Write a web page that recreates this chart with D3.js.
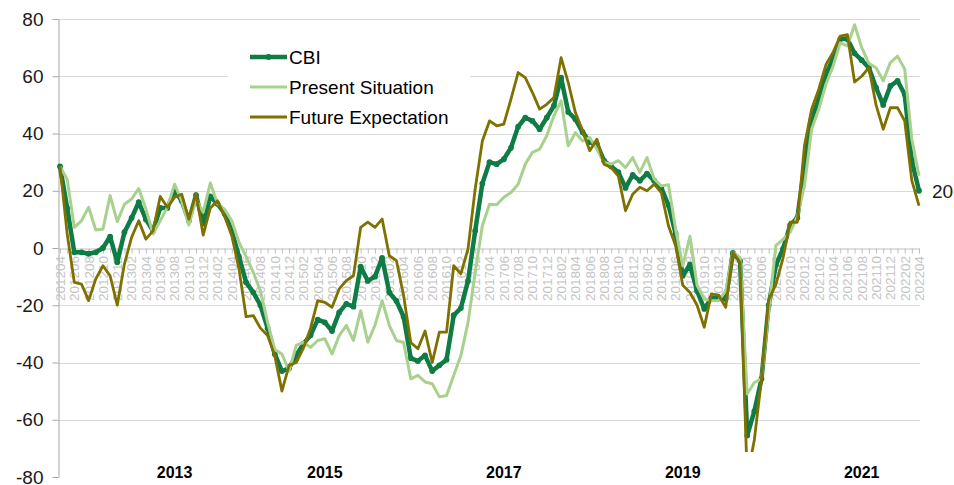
<!DOCTYPE html>
<html>
<head>
<meta charset="utf-8">
<script src="https://cdn.jsdelivr.net/npm/d3@7"></script>
<style>
  body { margin: 0; background: #fff; }
  svg { display: block; font-family: Arial, "Liberation Sans", sans-serif; }
</style>
</head>
<body>
<svg id="chart" width="954" height="485"></svg>
<script>
// ---- data -----------------------------------------------------------------
const months = [
  "201204","201205","201206","201207","201208","201209","201210","201211","201212",
  "201301","201302","201303","201304","201305","201306","201307","201308","201309","201310","201311","201312",
  "201401","201402","201403","201404","201405","201406","201407","201408","201409","201410","201411","201412",
  "201501","201502","201503","201504","201505","201506","201507","201508","201509","201510","201511","201512",
  "201601","201602","201603","201604","201605","201606","201607","201608","201609","201610","201611","201612",
  "201701","201702","201703","201704","201705","201706","201707","201708","201709","201710","201711","201712",
  "201801","201802","201803","201804","201805","201806","201807","201808","201809","201810","201811","201812",
  "201901","201902","201903","201904","201905","201906","201907","201908","201909","201910","201911","201912",
  "202001","202002","202003","202004","202005","202006","202007","202008","202009","202010","202011","202012",
  "202101","202102","202103","202104","202105","202106","202107","202108","202109","202110","202111","202112",
  "202201","202202","202203","202204"
];

const cbi = [
  28.5, 14, -1.5, -1.5, -2, -1.5, 0, 4, -5,
  5.5, 10.5, 16, 10, 6, 14, 14, 20, 16.5, 9.5, 18.5, 8.5,
  18, 15.5, 12, 6, -3, -12, -15.5, -20, -28, -37, -43, -42,
  -37.5, -33.5, -30.5, -25, -26, -29, -22.5, -19.5, -20.5, -6.5, -11.5, -10,
  -3.5, -15.5, -18.5, -24, -38.5, -39.5, -37.5, -43, -41, -39, -23.5, -21,
  -11.5, 6, 22.5, 30, 29.3, 31, 35, 42.4, 45.5, 44.4, 41.5, 45.5,
  49.7, 59.5, 47.5, 45, 40.5, 37, 36.3, 30.5, 28.5, 26.5, 21, 25.5,
  23.5, 26, 23.5, 21, 15, 5, -9.7, -5.8, -15, -21.3, -17.5, -17.3,
  -17.8, -1.7, -4.5, -65.5, -57, -45.7, -20, -6, -0.3, 8, 10.5, 28.7,
  45, 52, 60.7, 66, 73, 73, 68, 65.6, 63, 56, 50, 56.6,
  58.4, 53.7, 30.5, 20
];

const present = [
  28.5, 24, 7.2, 9.5, 14.2, 6.3, 6.6, 18.3, 9.2,
  15.3, 17.1, 20.8, 13.6, 4.9, 9.5, 14.2, 22.3, 16.5, 8, 17, 12.5,
  22.7, 15.5, 13.5, 9.5, 2, -3, -8.5, -15, -26, -35.5, -37, -43,
  -34, -33, -34.7, -32.3, -31.7, -37, -30.6, -27, -32.3, -21.9, -32.9, -27,
  -18.4, -27, -32.3, -33, -45.7, -44.5, -46.8, -47.4, -52, -51.5, -44.5, -37.6,
  -26, -8.5, 7.8, 15.3, 15.1, 17.7, 19.4, 22.3, 29.3, 33.4, 34.5, 39.2,
  46.2, 51.4, 35.7, 40.3, 37.4, 38.6, 34.5, 29.9, 29.3, 30.5, 28.1, 31.6,
  26.4, 31.6, 24.1, 21.7, 22.1, 6.6, -6.2, 4.1, -13, -17.8, -18.4, -18.4,
  -15, -1.5, -3.3, -51, -47, -45.7, -22, 0.8, 3, 5.5, 11, 21.7,
  41.5, 48.5, 57.2, 63.6, 71.7, 70.6, 78, 70, 64.5, 63, 58.4, 64.8,
  67, 62.5, 38, 25.2
];

const future = [
  28.5, 5, -12, -12.6, -18.4, -10.8, -6.2, -9.7, -20,
  -5.6, 3.7, 9.5, 3.1, 6, 18, 14.2, 17.7, 18.8, 10, 19, 4.5,
  14, 16.5, 11, 4.3, -7.3, -24, -23.6, -28, -30.6, -37.6, -50, -41,
  -40, -35, -28, -18.4, -19, -20.7, -14.3, -11.4, -9.7, 7.2, 9, 7.2,
  10.1, -2.7, -4.4, -16.6, -33, -35.2, -29, -40, -29.4, -29.4, -6.2, -9,
  -0.3, 20.6, 37.4, 44.4, 42.7, 43.3, 52, 61.3, 59.5, 54.3, 48.5, 50.2,
  52.6, 66.5, 57.8, 47.3, 41, 34, 38, 29.3, 28.1, 25.1, 13, 18.8,
  21.2, 20, 22.3, 19.4, 7.8, 0.8, -13, -15.5, -20, -27.7, -16, -16.5,
  -20.7, -1.5, -5, -80, -67, -45.7, -18, -12.8, -3.6, 9, 9, 35.7,
  48.5, 55.5, 64, 68.4, 74, 74.5, 58, 60, 63, 50, 41.5, 49,
  49, 44.4, 23.5, 14.8
];

const yTicks = [80, 60, 40, 20, 0, -20, -40, -60, -80];
const yearLabels = ["2013", "2015", "2017", "2019", "2021"];
const yearAnchors = ["201308", "201505", "201706", "201907", "202108"];

const series = [
  { name: "CBI", values: cbi, color: "#0f7b45", width: 4.5, dots: true },
  { name: "Present Situation", values: present, color: "#a9d18e", width: 3 },
  { name: "Future Expectation", values: future, color: "#7f7000", width: 2.8 },
];

// ---- layout ---------------------------------------------------------------
const svg = d3.select("#chart");
const AX = 58;                                   // y axis position
const x = d3.scalePoint().domain(months).range([60, 919]);
const y = d3.scaleLinear().domain([-80, 80]).range([477, 19]);
const crisp = v => Math.round(v) + 0.5;

// horizontal gridlines
svg.append("g").selectAll("line")
  .data(yTicks.filter(v => v !== 0 && v !== -80))
  .join("line")
  .attr("x1", AX).attr("x2", 920)
  .attr("y1", d => crisp(y(d))).attr("y2", d => crisp(y(d)))
  .attr("stroke", "#d9d9d9").attr("stroke-width", 1);

// y axis (plain hyphen for negatives, as in the source)
const yAxis = svg.append("g")
  .attr("transform", `translate(${AX + 0.5},0)`)
  .call(d3.axisLeft(y).tickValues(yTicks).tickSize(6).tickSizeOuter(0).tickPadding(9)
    .tickFormat(d => String(d)));
yAxis.select(".domain").attr("stroke", "#a6a6a6");
yAxis.selectAll(".tick line").attr("stroke", "#a6a6a6");
yAxis.selectAll(".tick text")
  .attr("font-family", "Arial, 'Liberation Sans', sans-serif")
  .attr("font-size", 19).attr("fill", "#1a1a1a");

// x axis on the zero line, tick for each month
const xAxis = svg.append("g")
  .attr("transform", `translate(0,${crisp(y(0))})`)
  .call(d3.axisBottom(x).tickSize(5).tickSizeOuter(0).tickFormat(""));
xAxis.select(".domain").attr("d", `M${AX},0.5H920`).attr("stroke", "#bfbfbf");
xAxis.selectAll(".tick line").attr("stroke", "#bfbfbf");

// rotated month labels, every second month
svg.append("g").selectAll("text")
  .data(months.filter((d, i) => i % 2 === 0))
  .join("text")
  .attr("transform", d => `translate(${x(d)},${y(0) + 8}) rotate(-90)`)
  .attr("text-anchor", "end").attr("dy", "0.36em")
  .attr("font-size", 13.5).attr("fill", "#c4c4c4")
  .text(d => d);

// year labels
svg.append("g").selectAll("text")
  .data(yearLabels)
  .join("text")
  .attr("x", (d, i) => x(yearAnchors[i]))
  .attr("y", 478)
  .attr("text-anchor", "middle")
  .attr("font-size", 16).attr("font-weight", "bold").attr("fill", "#000")
  .text(d => d);

// legend box
svg.append("rect").attr("x", 228).attr("y", 38).attr("width", 242).attr("height", 90).attr("fill", "#fff");

// series
svg.append("clipPath").attr("id", "plotClip")
  .append("rect").attr("x", 0).attr("y", 0).attr("width", 954).attr("height", 452);

const line = d3.line().x((d, i) => x(months[i])).y(d => y(d));
const plot = svg.append("g").attr("clip-path", "url(#plotClip)");
series.forEach(s => {
  plot.append("path")
    .attr("d", line(s.values))
    .attr("fill", "none")
    .attr("stroke", s.color)
    .attr("stroke-width", s.width)
    .attr("stroke-linejoin", "round");
  if (s.dots) {
    plot.append("g").selectAll("circle")
      .data(s.values)
      .join("circle")
      .attr("cx", (d, i) => x(months[i]))
      .attr("cy", d => y(d))
      .attr("r", 2.9)
      .attr("fill", s.color);
  }
});

// last value of CBI
svg.append("text")
  .attr("x", x(months[months.length - 1]) + 13)
  .attr("y", y(cbi[cbi.length - 1]) + 7)
  .attr("font-size", 19).attr("fill", "#1a1a1a")
  .text(String(cbi[cbi.length - 1]));

// legend
const leg = svg.append("g").attr("transform", "translate(250,57)");
series.forEach((s, i) => {
  const g = leg.append("g").attr("transform", `translate(0,${i * 30})`);
  g.append("line").attr("x1", 0).attr("x2", 37).attr("y1", 0).attr("y2", 0)
    .attr("stroke", s.color).attr("stroke-width", s.width);
  if (s.dots) g.append("circle").attr("cx", 18.5).attr("cy", 0).attr("r", 2.9).attr("fill", s.color);
  g.append("text").attr("x", 39).attr("y", 7)
    .attr("font-size", 19).attr("fill", "#000")
    .text(s.name);
});
</script>
</body>
</html>
